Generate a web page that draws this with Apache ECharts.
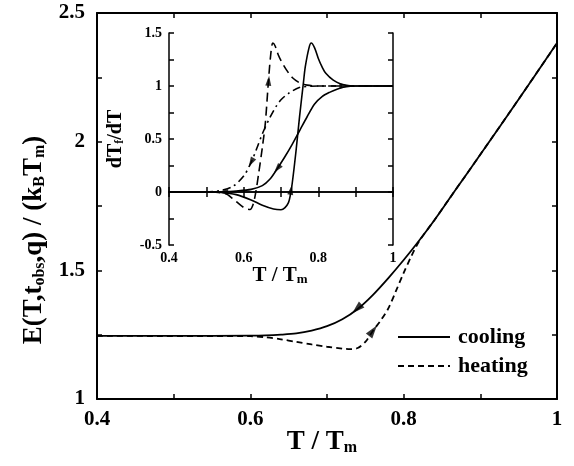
<!DOCTYPE html>
<html>
<head>
<meta charset="utf-8">
<script src="https://cdn.jsdelivr.net/npm/echarts@6/dist/echarts.min.js"></script>
<style>html,body{margin:0;padding:0;background:#fff;}#c{width:574px;height:466px;}</style>
</head>
<body>
<div id="c"></div>
<script>
// ---- main panel data ----
const coolingT = [0.4,0.5,0.6,0.62,0.64,0.66,0.68,0.70,0.72,0.74,0.76,0.78,0.80,0.82,0.84,0.86,0.88,0.90,0.95,1.0];
const coolingE = [1.245,1.245,1.246,1.247,1.25,1.255,1.266,1.283,1.31,1.35,1.405,1.47,1.54,1.615,1.695,1.78,1.865,1.95,2.165,2.383];
const heatingT = [0.4,0.6,0.62,0.64,0.66,0.68,0.70,0.72,0.73,0.74,0.75,0.76,0.77,0.78,0.79,0.80,0.81,0.82,0.84,0.86,0.88,0.90,0.95,1.0];
const heatingE = [1.245,1.244,1.24,1.232,1.222,1.212,1.203,1.196,1.194,1.198,1.222,1.265,1.305,1.352,1.42,1.49,1.555,1.612,1.695,1.78,1.865,1.95,2.165,2.383];
const mainArrowT = [0.739, 0.76];
const mainArrowE = [1.35, 1.265];
const mainXTicks = ['0.4','0.6','0.8','1'];
const mainYTicks = ['1','1.5','2','2.5'];

// ---- inset data ----
const insetCoolT = [0.4,0.5,0.54,0.58,0.62,0.65,0.67,0.69,0.71,0.73,0.75,0.77,0.79,0.81,0.83,0.85,0.87,0.9,1.0];
const insetCoolV = [0,0,0.003,0.01,0.025,0.06,0.12,0.22,0.33,0.45,0.58,0.71,0.83,0.9,0.94,0.97,0.99,1.0,1.0];
const insetHeatT = [0.4,0.5,0.54,0.58,0.62,0.65,0.68,0.70,0.71,0.72,0.725,0.73,0.74,0.75,0.76,0.765,0.775,0.781,0.79,0.80,0.81,0.82,0.84,0.86,0.88,0.9,1.0];
const insetHeatV = [0,0,-0.004,-0.025,-0.075,-0.125,-0.16,-0.167,-0.15,-0.1,-0.03,0.08,0.38,0.72,1.03,1.18,1.36,1.405,1.36,1.26,1.18,1.12,1.055,1.02,1.005,1.0,1.0];
const insetDashT = [0.4,0.5,0.55,0.57,0.59,0.605,0.617,0.625,0.632,0.64,0.65,0.658,0.665,0.672,0.678,0.684,0.692,0.70,0.715,0.73,0.75,0.77,0.8,1.0];
const insetDashV = [0,0,-0.015,-0.06,-0.12,-0.155,-0.165,-0.12,-0.01,0.17,0.42,0.65,0.98,1.28,1.405,1.38,1.3,1.24,1.15,1.08,1.03,1.008,1.0,1.0];
const insetDashDotT = [0.4,0.5,0.518,0.54,0.571,0.6,0.62,0.635,0.651,0.67,0.687,0.70,0.72,0.749,0.78,0.8,1.0];
const insetDashDotV = [0,0,0.004,0.015,0.053,0.15,0.28,0.41,0.557,0.7,0.808,0.87,0.93,0.985,0.998,1.0,1.0];
const insetArrowT = [0.62, 0.69, 0.545, 0.667, 0.727, 0.87];
const insetArrowV = [0.28, 0.22, 0.0, 1.05, 0.02, 1.0];
const insetXTicks = ['0.4','0.6','0.8','1'];
const insetYTicks = ['-0.5','0','0.5','1','1.5'];

// arrow orientations (style)
const mainArrowRot = [133, -37];
const insetArrowRot = [151, 141, 90, -5, -10, -90];

const FONT = "'Liberation Serif','Times New Roman',serif";
const zip = (a, b) => a.map((x, i) => [x, b[i]]);
const arrowPath = 'path://M0,0 L5,14 L-5,14 Z';

function tickFmt(list, step) {
  return function (v) {
    const k = v / step;
    if (Math.abs(k - Math.round(k)) > 1e-6) return '';
    const s = String(Math.round(v * 100) / 100);
    return list.indexOf(s) >= 0 ? s : '';
  };
}

const axisLine = { show: true, lineStyle: { color: '#000', width: 2 } };
const axisLineThin = { show: true, lineStyle: { color: '#000', width: 1.5 } };

function xAx(grid, pos, showLabel, ticks, fs, line) {
  return {
    type: 'value', gridIndex: grid, position: pos, min: 0.4, max: 1, interval: 0.1,
    axisLine: line, splitLine: { show: false },
    axisTick: { show: true, inside: true, length: 5, lineStyle: { color: '#000', width: 1.5 } },
    axisLabel: { show: showLabel, formatter: tickFmt(ticks, 0.2), color: '#000', fontFamily: FONT, fontWeight: 'bold', fontSize: fs, margin: grid === 0 ? 10 : 6, showMinLabel: true, showMaxLabel: true }
  };
}
function yAx(grid, pos, showLabel, ticks, fs, mn, mx, line) {
  return {
    type: 'value', gridIndex: grid, position: pos, min: mn, max: mx, interval: 0.25,
    axisLine: line, splitLine: { show: false },
    axisTick: { show: true, inside: true, length: 5, lineStyle: { color: '#000', width: 1.5 } },
    axisLabel: { show: showLabel, formatter: tickFmt(ticks, 0.5), color: '#000', fontFamily: FONT, fontWeight: 'bold', fontSize: fs, margin: grid === 0 ? 12 : 7, showMinLabel: true, showMaxLabel: true }
  };
}

const chart = echarts.init(document.getElementById('c'), null, { renderer: 'canvas' });
chart.setOption({
  backgroundColor: '#fff',
  animation: false,
  grid: [
    { left: 97, right: 17, top: 13, bottom: 67 },
    { left: 169, top: 33, width: 224, height: 212 }
  ],
  xAxis: [
    xAx(0, 'bottom', true, mainXTicks, 21, axisLine),
    xAx(0, 'top', false, mainXTicks, 21, axisLine),
    xAx(1, 'bottom', true, insetXTicks, 14, axisLineThin),
    xAx(1, 'top', false, insetXTicks, 14, axisLineThin)
  ],
  yAxis: [
    yAx(0, 'left', true, mainYTicks, 21, 1, 2.5, axisLine),
    yAx(0, 'right', false, mainYTicks, 21, 1, 2.5, axisLine),
    yAx(1, 'left', true, insetYTicks, 14, -0.5, 1.5, axisLineThin),
    yAx(1, 'right', false, insetYTicks, 14, -0.5, 1.5, axisLineThin)
  ],
  legend: {
    data: ['cooling', 'heating'],
    orient: 'vertical', left: 392, top: 321,
    itemWidth: 52, itemHeight: 14, itemGap: 7,
    itemStyle: { opacity: 0, borderWidth: 0 },
    textStyle: { fontFamily: FONT, fontWeight: 'bold', fontSize: 22, color: '#000', padding: [0, 0, 0, 3] }
  },
  graphic: [
    {
      type: 'text', x: 34, y: 240, rotation: Math.PI / 2,
      style: {
        text: 'E(T,t{s|obs},q) / (k{s|B}T{s|m})',
        align: 'center', verticalAlign: 'middle',
        fontSize: 27, fontWeight: 'bold', fontFamily: FONT, fill: '#000',
        rich: { s: { fontSize: 16, fontWeight: 'bold', fontFamily: FONT, verticalAlign: 'bottom', lineHeight: 14 } }
      }
    },
    {
      type: 'text', x: 322, y: 442,
      style: {
        text: 'T / T{s|m}',
        align: 'center', verticalAlign: 'middle',
        fontSize: 27, fontWeight: 'bold', fontFamily: FONT, fill: '#000',
        rich: { s: { fontSize: 16, fontWeight: 'bold', fontFamily: FONT, verticalAlign: 'bottom', lineHeight: 14 } }
      }
    },
    {
      type: 'text', x: 280, y: 276,
      style: {
        text: 'T / T{s|m}',
        align: 'center', verticalAlign: 'middle',
        fontSize: 21, fontWeight: 'bold', fontFamily: FONT, fill: '#000',
        rich: { s: { fontSize: 13, fontWeight: 'bold', fontFamily: FONT, verticalAlign: 'bottom', lineHeight: 11 } }
      }
    },
    {
      type: 'text', x: 116, y: 139, rotation: Math.PI / 2,
      style: {
        text: 'dT{s|f}/dT',
        align: 'center', verticalAlign: 'middle',
        fontSize: 20, fontWeight: 'bold', fontFamily: FONT, fill: '#000',
        rich: { s: { fontSize: 12, fontWeight: 'bold', fontFamily: FONT, verticalAlign: 'bottom', lineHeight: 10 } }
      }
    }
  ],
  series: [
    { name: 'cooling', type: 'line', xAxisIndex: 0, yAxisIndex: 0, data: zip(coolingT, coolingE), smooth: 0.3, symbol: 'none',
      lineStyle: { color: '#000', width: 1.8, type: 'solid' }, itemStyle: { color: '#000' } },
    { name: 'heating', type: 'line', xAxisIndex: 0, yAxisIndex: 0, data: zip(heatingT, heatingE), smooth: 0.3, symbol: 'none',
      lineStyle: { color: '#000', width: 1.8, type: [6, 4] }, itemStyle: { color: '#000' } },
    { name: 'mainArrows', type: 'scatter', xAxisIndex: 0, yAxisIndex: 0, data: zip(mainArrowT, mainArrowE),
      symbol: arrowPath, symbolSize: [8, 13], symbolRotate: (v, p) => mainArrowRot[p.dataIndex],
      itemStyle: { color: '#000' }, silent: true },
    { name: 'insetCool', type: 'line', xAxisIndex: 2, yAxisIndex: 2, data: zip(insetCoolT, insetCoolV), smooth: 0.3, symbol: 'none',
      lineStyle: { color: '#000', width: 1.6 } },
    { name: 'insetHeat', type: 'line', xAxisIndex: 2, yAxisIndex: 2, data: zip(insetHeatT, insetHeatV), smooth: 0.3, symbol: 'none',
      lineStyle: { color: '#000', width: 1.6 } },
    { name: 'insetDash', type: 'line', xAxisIndex: 2, yAxisIndex: 2, data: zip(insetDashT, insetDashV), smooth: 0.3, symbol: 'none',
      lineStyle: { color: '#000', width: 1.6, type: [9, 5] } },
    { name: 'insetDashDot', type: 'line', xAxisIndex: 2, yAxisIndex: 2, data: zip(insetDashDotT, insetDashDotV), smooth: 0.3, symbol: 'none',
      lineStyle: { color: '#000', width: 1.6, type: [8, 4, 2, 4] } },
    { name: 'insetArrows', type: 'scatter', xAxisIndex: 2, yAxisIndex: 2, data: zip(insetArrowT, insetArrowV),
      symbol: arrowPath, symbolSize: [6, 10], symbolRotate: (v, p) => insetArrowRot[p.dataIndex],
      itemStyle: { color: '#000' }, silent: true }
  ]
});
</script>
</body>
</html>
